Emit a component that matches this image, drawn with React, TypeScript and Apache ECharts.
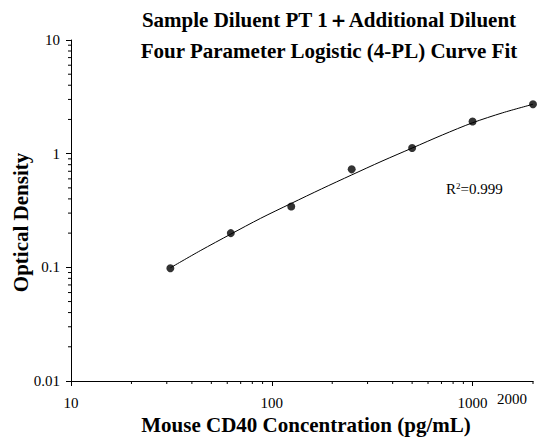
import React, { useEffect, useRef } from "react";
import * as echarts from "echarts";

const concentrations = [31.25, 62.5, 125, 250, 500, 1000, 2000];
const odValues = [0.098, 0.2, 0.343, 0.728, 1.12, 1.92, 2.72];

const curveX = [31.25, 44, 62.5, 88, 125, 177, 250, 354, 500, 707, 1000, 1414, 2000];
const curveY = [0.099, 0.14, 0.196, 0.27, 0.365, 0.49, 0.65, 0.86, 1.12, 1.46, 1.87, 2.29, 2.72];

const xMinorTicks = [20, 30, 40, 50, 60, 70, 80, 90, 200, 300, 400, 500, 600, 700, 800, 900, 2000];
const yMinorTicks = [0.02, 0.03, 0.04, 0.05, 0.06, 0.07, 0.08, 0.09, 0.2, 0.3, 0.4, 0.5, 0.6, 0.7, 0.8, 0.9, 2, 3, 4, 5, 6, 7, 8, 9];

const titleLines = ["Sample Diluent PT 1＋Additional Diluent", "Four Parameter Logistic (4-PL) Curve Fit"];
const xName = "Mouse CD40 Concentration (pg/mL)";
const yName = "Optical Density";
const xExtraLabel = "2000";
const rSquared = "0.999";

const FONT = "Liberation Serif";

export default function App() {
  const ref = useRef<HTMLDivElement>(null);
  useEffect(() => {
    if (!ref.current) return;
    const chart = echarts.init(ref.current, null, { renderer: "svg" });
    chart.setOption({
      animation: false,
      backgroundColor: "#fff",
      grid: { left: 71, right: 16, top: 40, bottom: 58, outerBoundsMode: "none", containLabel: false },
      xAxis: {
        type: "log",
        logBase: 10,
        min: 10,
        max: 2000,
        name: xName,
        nameLocation: "middle",
        nameGap: 33,
        nameTextStyle: { fontFamily: FONT, fontWeight: "bold", fontSize: 21, color: "#000", padding: [0, 0, 0, 8] },
        axisLine: { onZero: false, lineStyle: { color: "#000", width: 1 } },
        axisTick: { show: true, length: 5, inside: false, lineStyle: { color: "#000" } },
        axisLabel: {
          fontFamily: FONT,
          fontSize: 15,
          color: "#000",
          margin: 14,
          showMaxLabel: false,
          formatter: (v: number) => String(v),
        },
        splitLine: { show: false },
        minorTick: { show: false },
      },
      yAxis: {
        type: "log",
        logBase: 10,
        min: 0.01,
        max: 10,
        name: yName,
        nameLocation: "middle",
        nameGap: 40,
        nameMoveOverlap: false,
        nameTextStyle: { fontFamily: FONT, fontWeight: "bold", fontSize: 21, color: "#000", padding: [0, 24, 0, 0] },
        axisLine: { onZero: false, lineStyle: { color: "#000", width: 1 } },
        axisTick: { show: true, length: 5, inside: false, lineStyle: { color: "#000" } },
        axisLabel: {
          fontFamily: FONT,
          fontSize: 15,
          color: "#000",
          margin: 11,
          formatter: (v: number) => String(v),
        },
        splitLine: { show: false },
        minorTick: { show: false },
      },
      graphic: [
        {
          type: "text",
          x: 329,
          y: 4,
          style: {
            text: "{t|" + titleLines[0] + "}\n{t|" + titleLines[1] + "}",
            textAlign: "center",
            rich: {
              t: { fontFamily: FONT, fontWeight: "bold", fontSize: 21, lineHeight: 31, color: "#000", align: "center" },
            },
          },
        },
        {
          type: "text",
          x: 512,
          y: 391,
          style: {
            text: "{l|" + xExtraLabel + "}",
            textAlign: "center",
            rich: { l: { fontFamily: FONT, fontSize: 15, color: "#000" } },
          },
        },
        {
          type: "text",
          x: 446,
          y: 181,
          style: {
            text: "{a|R}{s|2}{a|=" + rSquared + "}",
            fill: "#000",
            rich: {
              a: { fontFamily: FONT, fontSize: 15, color: "#000", verticalAlign: "bottom" },
              s: { fontFamily: FONT, fontSize: 9, color: "#000", verticalAlign: "top", padding: [0, 0, 6, 0] },
            },
          },
        },
      ],
      series: [
        {
          type: "line",
          data: curveX.map((x, i) => [x, curveY[i]]),
          showSymbol: false,
          smooth: 0.3,
          lineStyle: { color: "#000", width: 1 },
          z: 2,
        },
        {
          type: "scatter",
          data: concentrations.map((x, i) => [x, odValues[i]]),
          symbol: "circle",
          symbolSize: 8,
          itemStyle: { color: "#000" },
          z: 3,
        },
        {
          type: "custom",
          clip: false,
          silent: true,
          data: xMinorTicks.map((v) => [v, 0.01]),
          renderItem: (params: any, api: any) => {
            const p = api.coord([api.value(0), api.value(1)]);
            return {
              type: "line",
              shape: { x1: p[0], y1: p[1], x2: p[0], y2: p[1] + 3 },
              style: { stroke: "#000", lineWidth: 1 },
            };
          },
        },
        {
          type: "custom",
          clip: false,
          silent: true,
          data: yMinorTicks.map((v) => [10, v]),
          renderItem: (params: any, api: any) => {
            const p = api.coord([api.value(0), api.value(1)]);
            return {
              type: "line",
              shape: { x1: p[0] - 3, y1: p[1], x2: p[0], y2: p[1] },
              style: { stroke: "#000", lineWidth: 1 },
            };
          },
        },
      ],
    });
    return () => chart.dispose();
  }, []);
  return <div ref={ref} style={{ width: 549, height: 439, position: "absolute", left: 0, top: 0 }} />;
}
